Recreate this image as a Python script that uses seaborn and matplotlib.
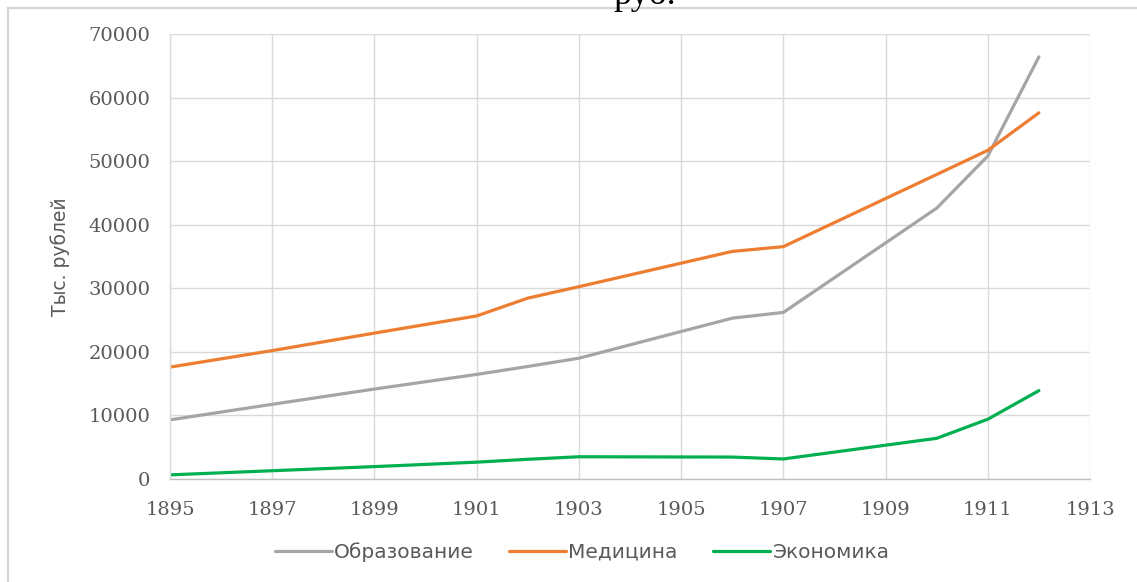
import pandas as pd
import matplotlib.pyplot as plt
import seaborn as sns
from matplotlib.lines import Line2D

years = [1895, 1897, 1899, 1901, 1902, 1903, 1906, 1907, 1910, 1911, 1912]
education = [9300, 11750, 14150, 16450, 17700, 19000, 25300, 26200, 42600, 50800, 66400]
medicine = [17600, 20200, 22950, 25650, 28450, 30250, 35800, 36550, 47900, 51700, 57600]
economy = [650, 1300, 1950, 2650, 3100, 3500, 3450, 3150, 6400, 9400, 13900]

series_names = ["Образование", "Медицина", "Экономика"]
colors = ["#A5A5A5", "#ED7D31", "#00B050"]


def build_frame():
    rows = []
    for name, vals in zip(series_names, [education, medicine, economy]):
        for y, v in zip(years, vals):
            rows.append({"Год": y, "Значение": v, "Статья": name})
    return pd.DataFrame(rows)


def plot_chart(df):
    sns.set_theme(style="whitegrid")
    plt.rcParams["font.family"] = ["DejaVu Sans"]

    W, H = 1137, 582
    fig = plt.figure(figsize=(W / 100, H / 100), dpi=100)
    ax = fig.add_axes([170 / W, 1 - 479 / H, 920 / W, 445 / H])

    sns.lineplot(data=df, x="Год", y="Значение", hue="Статья", hue_order=series_names,
                 palette=colors, linewidth=2.3, ax=ax, legend=True)

    ax.set_xlim(1895, 1913)
    ax.set_ylim(0, 70000)
    ax.set_xticks(range(1895, 1914, 2))
    ax.set_yticks(range(0, 70001, 10000))
    ax.tick_params(axis="both", length=0, labelcolor="#595959")
    ax.tick_params(axis="y", pad=14)
    ax.tick_params(axis="x", pad=16)
    for lbl in ax.get_xticklabels() + ax.get_yticklabels():
        lbl.set_fontfamily("DejaVu Serif")
        lbl.set_fontsize(14)
    ax.grid(True, color="#d9d9d9", linewidth=1)
    ax.set_xlabel("")
    ax.set_ylabel("Тыс. рублей", fontsize=13.5, color="#595959")
    ax.yaxis.set_label_coords((70 - 170) / 920, 0.5)

    for side in ["top", "right"]:
        ax.spines[side].set_visible(False)
    ax.spines["left"].set_color("#d9d9d9")
    ax.spines["bottom"].set_color("#bfbfbf")
    ax.spines["left"].set_linewidth(1)
    ax.spines["bottom"].set_linewidth(1)

    handles, labels = ax.get_legend_handles_labels()
    ax.legend_.remove()
    fig.legend(handles, labels, loc="center", bbox_to_anchor=(582 / W, 1 - 552 / H), ncol=3,
               frameon=False, fontsize=14.5, handlelength=2.85, handletextpad=0.1,
               columnspacing=1.75, labelcolor="#595959")

    # chart border (top and left only) and the cut-off title line
    fig.lines.append(Line2D([8 / W, 1], [1 - 8 / H, 1 - 8 / H], transform=fig.transFigure,
                            color="#d4d4d4", linewidth=1.6))
    fig.lines.append(Line2D([8 / W, 8 / W], [0, 1 - 8 / H], transform=fig.transFigure,
                            color="#d4d4d4", linewidth=1.6))
    fig.text(645 / W, 1 - 4 / H, "руб.", ha="center", va="baseline",
             fontsize=26, family="Liberation Serif", color="black")

    fig.savefig("out.png", dpi=100)


def main():
    df = build_frame()
    plot_chart(df)


if __name__ == "__main__":
    main()
